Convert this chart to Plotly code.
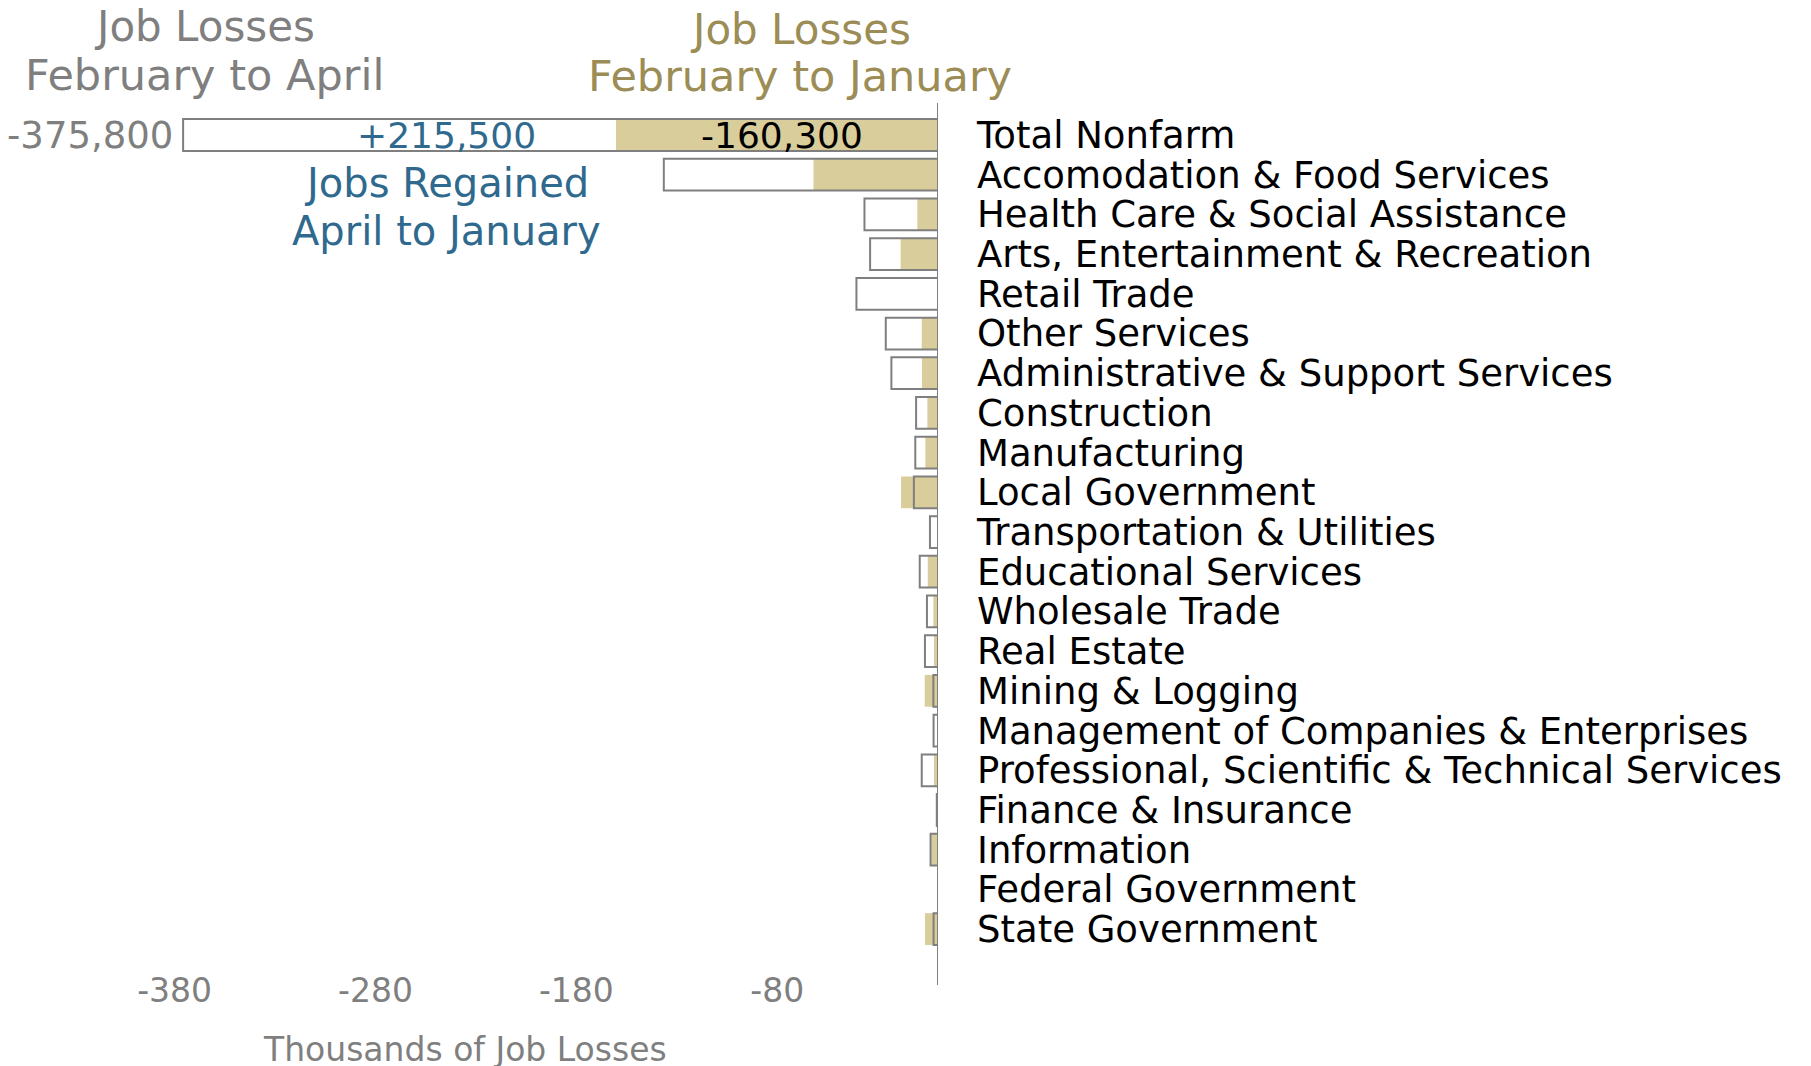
import plotly.graph_objects as go

categories = [
    "Total Nonfarm",
    "Accomodation & Food Services",
    "Health Care & Social Assistance",
    "Arts, Entertainment & Recreation",
    "Retail Trade",
    "Other Services",
    "Administrative & Support Services",
    "Construction",
    "Manufacturing",
    "Local Government",
    "Transportation & Utilities",
    "Educational Services",
    "Wholesale Trade",
    "Real Estate",
    "Mining & Logging",
    "Management of Companies & Enterprises",
    "Professional, Scientific & Technical Services",
    "Finance & Insurance",
    "Information",
    "Federal Government",
    "State Government",
]

# thousands of jobs, February to April
feb_apr = [-375.8, -136.5, -36.6, -33.8, -40.6, -26.0, -23.2, -10.9, -11.3, -12.0,
           -4.0, -9.1, -5.5, -6.5, -2.3, -2.2, -8.1, -0.6, -3.7, 0.5, -2.2]
# thousands of jobs, February to January
feb_jan = [-160.3, -62.0, -10.3, -18.6, 1.0, -8.1, -8.0, -5.3, -6.3, -18.4,
           1.0, -5.1, -2.3, -2.0, -6.6, 0.8, -2.0, 1.0, -3.3, 0.0, -6.5]

tick_vals = [-380, -280, -180, -80]
tick_text = ["-380", "-280", "-180", "-80"]

GRAY = "#7f7f7f"
TAN = "#d9cd9c"
TAN_TEXT = "#9c8c55"
BLUE = "#2f6a8e"
FONT = "DejaVu Sans, sans-serif"

W, H = 1811, 1066
L, R, T, B = 12, 881, 95, 108
PAGE = 8  # browser body margin

fig = go.Figure()
fig.add_trace(go.Bar(
    y=categories, x=feb_jan, orientation="h", width=0.8,
    marker=dict(color=TAN, line=dict(width=0)), name="Feb to Jan",
))
fig.add_trace(go.Bar(
    y=categories, x=feb_apr, orientation="h", width=0.8,
    marker=dict(color="rgba(0,0,0,0)", line=dict(color=GRAY, width=2)),
    name="Feb to Apr",
))

fig.update_layout(
    width=W, height=H,
    barmode="overlay",
    showlegend=False,
    plot_bgcolor="white", paper_bgcolor="white",
    margin=dict(l=L, r=R, t=T, b=B),
    xaxis=dict(
        range=[-457, 0], tickvals=tick_vals, ticktext=tick_text,
        showgrid=False, zeroline=False, showline=False, ticks="",
        ticklabelstandoff=2, automargin=False,
        tickfont=dict(family=FONT, size=33, color=GRAY),
    ),
    yaxis=dict(
        categoryorder="array", categoryarray=categories,
        tickmode="array", tickvals=categories,
        range=[20.93, -0.806], side="right", showgrid=False, zeroline=False,
        showline=False, ticks="", ticklabelstandoff=38, automargin=False,
        tickfont=dict(family=FONT, size=37, color="black"),
    ),
)

# zero line, running a little below the plot
fig.add_shape(type="line", xref="x", yref="paper", x0=0, x1=0, y0=-0.022, y1=1,
              line=dict(color=GRAY, width=2))


def px_x(x):
    return (x - PAGE - L) / (W - L - R)


def px_y(y):
    return (H - B - (y - PAGE)) / (H - T - B)


notes = [
    (204, 27, "Job Losses", GRAY, 42),
    (204, 75, "February to April", GRAY, 43),
    (800, 30, "Job Losses", TAN_TEXT, 42),
    (800, 76, "February to January", TAN_TEXT, 43),
    (446, 183, "Jobs Regained", BLUE, 40),
    (446, 231, "April to January", BLUE, 40),
    (465, 1049, "Thousands of Job Losses", GRAY, 33),
]
for x, y, text, color, size in notes:
    fig.add_annotation(x=px_x(x), y=px_y(y), xref="paper", yref="paper",
                       text=text, showarrow=False, xanchor="center", yanchor="middle",
                       font=dict(family=FONT, size=size, color=color))

# value labels on the total bar
fig.add_annotation(x=feb_apr[0], y=categories[0], text="-375,800", showarrow=False,
                   xanchor="right", xshift=-8, font=dict(family=FONT, size=37, color=GRAY))
fig.add_annotation(x=px_x(446), xref="paper", y=categories[0], text="+215,500",
                   showarrow=False, font=dict(family=FONT, size=36, color=BLUE))
fig.add_annotation(x=feb_jan[0] / 2, y=categories[0], text="-160,300", showarrow=False,
                   xshift=5, font=dict(family=FONT, size=36, color="black"))

fig.write_html("out.html")
